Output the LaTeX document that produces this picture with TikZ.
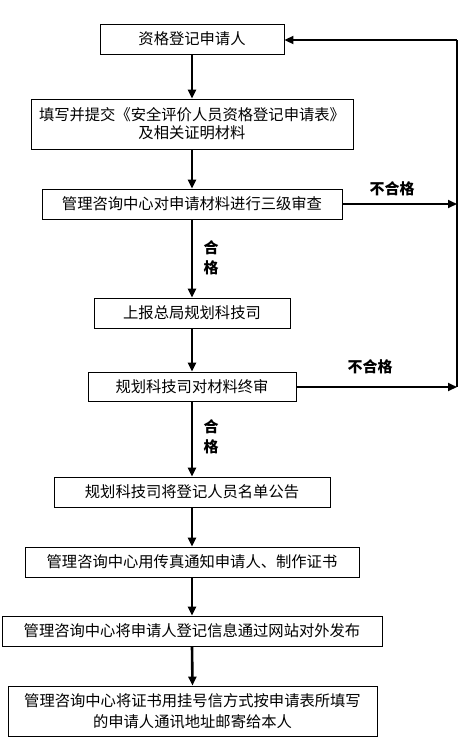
\documentclass[tikz,border=0pt]{standalone}
\usepackage{fontspec}
\setmainfont{Noto Sans CJK SC}
\usetikzlibrary{arrows.meta}
\begin{document}
\begin{tikzpicture}[x=1pt,y=-1pt,
  box/.style={draw,line width=0.9pt,inner sep=0pt,align=center,font=\fontsize{15.3}{19}\selectfont},
  flow/.style={line width=2.6pt,-{Triangle[length=9pt,width=8pt]}},
  back/.style={line width=2pt,-{Triangle[length=9pt,width=8pt]}},
  lbl/.style={font=\fontsize{15}{20}\selectfont\bfseries,align=center}]
\useasboundingbox (0,0) rectangle (464,747);
\node[box,minimum width=184pt,minimum height=30pt] (b1) at (192,39) {资格登记申请人};
\node[box,minimum width=322pt,minimum height=50pt,font=\fontsize{15.3}{18}\selectfont] (b2) at (192,124) {填写并提交《安全评价人员资格登记申请表》\\及相关证明材料};
\node[box,minimum width=300pt,minimum height=30pt] (b3) at (192,204) {管理咨询中心对申请材料进行三级审查};
\node[box,minimum width=196pt,minimum height=30pt] (b4) at (192,313) {上报总局规划科技司};
\node[box,minimum width=208pt,minimum height=29pt] (b5) at (192,386.5) {规划科技司对材料终审};
\node[box,minimum width=276pt,minimum height=30pt] (b6) at (192,492) {规划科技司将登记人员名单公告};
\node[box,minimum width=334pt,minimum height=30pt] (b7) at (192,562) {管理咨询中心用传真通知申请人、制作证书};
\node[box,minimum width=380pt,minimum height=30pt] (b8) at (192,631) {管理咨询中心将申请人登记信息通过网站对外发布};
\node[box,minimum width=369pt,minimum height=50pt,font=\fontsize{15.3}{21}\selectfont] (b9) at (192.5,711) {管理咨询中心将证书用挂号信方式按申请表所填写\\的申请人通讯地址邮寄给本人};
\draw[flow] (b1.south) -- (b2.north);
\draw[flow] (b2.south) -- (b3.north);
\draw[flow] (b3.south) -- (b4.north);
\draw[flow] (b4.south) -- (b5.north);
\draw[flow] (b5.south) -- (b6.north);
\draw[flow] (b6.south) -- (b7.north);
\draw[flow] (b7.south) -- (b8.north);
\draw[flow] (b8.south) -- (b9.north);
\coordinate (r1) at (457,40);
\coordinate (r3) at (457,204);
\coordinate (r5) at (457,387);
\draw[back] (b3.east) -- (r3);
\draw[back] (b5.east |- r5) -- (r5);
\draw[line width=2pt] (r5) -- (r1);
\draw[back] (r1) -- (b1.east |- r1);
\node[lbl] (n1) at (392,189) {不合格};
\node[lbl] (n2) at (370,367) {不合格};
\node[lbl] (h1) at (211,258) {合\\格};
\node[lbl] (h2) at (211,437) {合\\格};
\end{tikzpicture}
\end{document}
